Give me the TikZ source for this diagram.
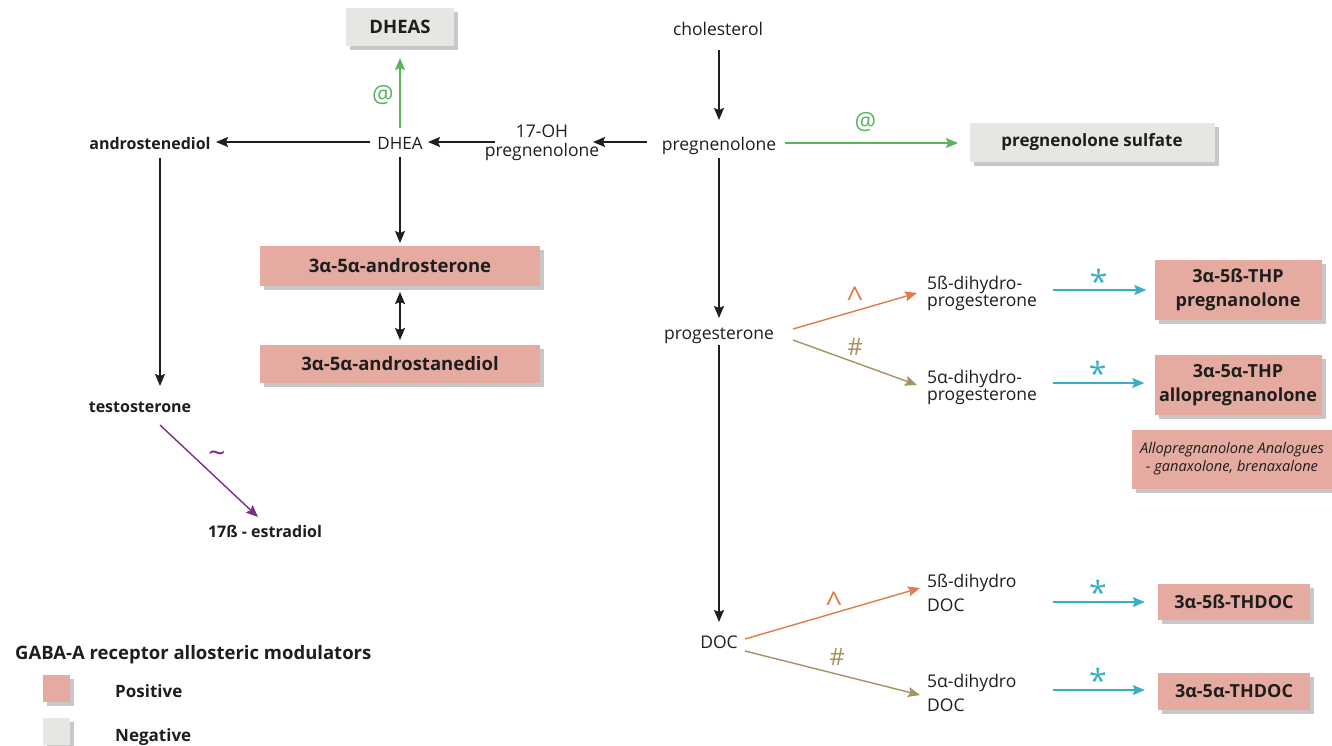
\documentclass[tikz,border=0pt]{standalone}
\usepackage{fontspec}
\setmainfont{Open Sans}
\usetikzlibrary{arrows.meta,shadows}
\definecolor{posc}{HTML}{E5AAA0}
\definecolor{negc}{HTML}{E8E6E2}
\definecolor{grn}{HTML}{5BB55E}
\definecolor{org}{HTML}{E07B4B}
\definecolor{tanc}{HTML}{A8925F}
\definecolor{cyn}{HTML}{3AAEC3}
\definecolor{prp}{HTML}{7A2E86}
\definecolor{ink}{HTML}{1E1E1E}
\begin{document}
\begin{tikzpicture}[x=1pt,y=-1pt,
  lbl/.style={font=\fontsize{17.5}{17.5}\selectfont, text=ink, inner sep=0pt, text height=13pt, text depth=4pt, align=center},
  lbla/.style={lbl, text height=18pt},
  blbl/.style={lbla, font=\bfseries\fontsize{16}{18}\selectfont},
  shd/.style={drop shadow={shadow xshift=4pt, shadow yshift=-4pt, fill=black, opacity=0.22}},
  posbox/.style={fill=posc, draw=none, text=ink, font=\bfseries\fontsize{18}{24}\selectfont, align=center, inner sep=0pt, shd},
  negbox/.style={fill=negc, draw=none, text=ink, font=\bfseries\fontsize{18.5}{20}\selectfont, align=center, inner sep=0pt, shd},
  arr/.style={line width=1.4pt, draw=ink, -{Stealth[length=12pt,width=10pt,inset=2pt]}},
  mk/.style={inner sep=0pt, anchor=center, font=\fontsize{24}{24}\selectfont},
  sh/.style={shift={#1}},
]
\useasboundingbox (0,0) rectangle (1332,745);

% boxes
\node[negbox, minimum width=108pt, minimum height=38pt] (dheas) at (400,27) {DHEAS};
\node[negbox, minimum width=245pt, minimum height=39pt, font=\bfseries\fontsize{17}{20}\selectfont] (psulf) at (1092,142) {pregnenolone sulfate};
\node[posbox, minimum width=280pt, minimum height=40pt, font=\bfseries\fontsize{18.5}{20}\selectfont] (andro) at (400,266) {3α-5α-androsterone};
\node[posbox, minimum width=280pt, minimum height=38pt, font=\bfseries\fontsize{18.5}{20}\selectfont] (adiol) at (400,364) {3α-5α-androstanediol};
\node[posbox, minimum width=167pt, minimum height=60pt] (thp) at (1238,290) {3α-5ß-THP\\pregnanolone};
\node[posbox, minimum width=167pt, minimum height=60pt] (allo) at (1238,385) {3α-5α-THP\\allopregnanolone};
\node[posbox, minimum width=200pt, minimum height=59pt, font=\itshape\fontsize{14.6}{18}\selectfont] (analog) at (1232,459) {Allopregnanolone Analogues\\- ganaxolone, brenaxalone};
\node[posbox, minimum width=152pt, minimum height=36pt] (thdoc1) at (1234,602) {3α-5ß-THDOC};
\node[posbox, minimum width=152pt, minimum height=37pt] (thdoc2) at (1234,691) {3α-5α-THDOC};

% text nodes
\node[lbla] (chol) at (718,28) {cholesterol};
\node[lbla] (preg) at (719,143) {pregnenolone};
\node[lbl, font=\fontsize{17.5}{19}\selectfont] (oh17) at (542,152) {17-OH\\pregnenolone};
\node[lbla, font=\fontsize{17}{17}\selectfont] (dhea) at (400,142) {DHEA};
\node[blbl] (andstd) at (150,142) {androstenediol};
\node[blbl] (testo) at (140,405) {testosterone};
\node[blbl] (estr) at (265,530) {17ß - estradiol};
\node[lbla] (prog) at (719,332) {progesterone};
\node[lbl, align=left, anchor=west, font=\fontsize{17.5}{14.5}\selectfont] (dhp5b) at (927,302) {5ß-dihydro-\\progesterone};
\node[lbl, align=left, anchor=west, font=\fontsize{17.5}{14.5}\selectfont] (dhp5a) at (927,396) {5α-dihydro-\\progesterone};
\node[lbla] (doc) at (719,641) {DOC};
\node[lbl, align=left, anchor=west, font=\fontsize{17.5}{24}\selectfont] (doc5b) at (927,607) {5ß-dihydro\\DOC};
\node[lbl, align=left, anchor=west, font=\fontsize{17.5}{24}\selectfont] (doc5a) at (927,707) {5α-dihydro\\DOC};

% connectors
\draw[arr] ([sh={(1,22)}]chol.center) -- ([sh={(0,-23)}]preg.center);
\draw[arr] ([sh={(-72,-1)}]preg.center) -- ([sh={(51,-10)}]oh17.center);
\draw[arr] ([sh={(-47,-10)}]oh17.center) -- ([sh={(28,0)}]dhea.center);
\draw[arr] ([sh={(-30,0)}]dhea.center) -- ([sh={(66,0)}]andstd.center);
\draw[arr, draw=grn] ([sh={(0,-14)}]dhea.center) -- node[mk, text=grn, xshift=-17pt, yshift=-2pt]{@} ([sh={(0,31)}]dheas.center);
\draw[arr] ([sh={(0,15)}]dhea.center) -- ([sh={(0,-23)}]andro.center);
\draw[line width=1.4pt, draw=ink, {Stealth[length=12pt,width=10pt,inset=2pt]}-{Stealth[length=12pt,width=10pt,inset=2pt]}] ([sh={(0,26)}]andro.center) -- ([sh={(0,-24)}]adiol.center);
\draw[arr] ([sh={(10,16)}]andstd.center) -- ([sh={(20,-19)}]testo.center);
\draw[arr, draw=prp] ([sh={(20,20)}]testo.center) -- node[mk, text=prp, font=\fontsize{30}{30}\selectfont, xshift=8pt, yshift=14pt]{\textasciitilde} ([sh={(-7,-13)}]estr.center);
\draw[arr, draw=grn] ([sh={(66,0)}]preg.center) -- node[mk, text=grn, xshift=-6pt, yshift=21pt]{@} ([sh={(-134,1)}]psulf.center);
\draw[arr] ([sh={(0,15)}]preg.center) -- ([sh={(0,-14)}]prog.center);
\draw[arr, draw=org] ([sh={(74,-3)}]prog.center) -- node[mk, text=org, font=\fontsize{30}{30}\selectfont, yshift=13pt]{\textasciicircum} ([sh={(-10,-9)}]dhp5b.west);
\draw[arr, draw=tanc] ([sh={(74,8)}]prog.center) -- node[mk, text=tanc, yshift=16pt]{\#} ([sh={(-10,-11)}]dhp5a.west);
\draw[arr, draw=cyn] ([sh={(126,-12)}]dhp5b.west) -- node[mk, text=cyn, font=\fontsize{32}{32}\selectfont, xshift=-1pt, yshift=9pt]{*} ([sh={(-8,0)}]thp.west);
\draw[arr, draw=cyn] ([sh={(126,-13)}]dhp5a.west) -- node[mk, text=cyn, font=\fontsize{32}{32}\selectfont, xshift=-1pt, yshift=10pt]{*} ([sh={(-10,-2)}]allo.west);
\draw[arr] ([sh={(0,13)}]prog.center) -- ([sh={(0,-19)}]doc.center);
\draw[arr, draw=org] ([sh={(26,-2)}]doc.center) -- node[mk, text=org, font=\fontsize{30}{30}\selectfont, xshift=1.5pt, yshift=11pt]{\textasciicircum} ([sh={(-7,-19)}]doc5b.west);
\draw[arr, draw=tanc] ([sh={(26,10)}]doc.center) -- node[mk, text=tanc, xshift=4.5pt, yshift=16pt]{\#} ([sh={(-7,-12)}]doc5a.west);
\draw[arr, draw=cyn] ([sh={(126,-5)}]doc5b.west) -- node[mk, text=cyn, font=\fontsize{32}{32}\selectfont, xshift=-1pt, yshift=10pt]{*} ([sh={(-13,0)}]thdoc1.west);
\draw[arr, draw=cyn] ([sh={(126,-17)}]doc5a.west) -- node[mk, text=cyn, font=\fontsize{32}{32}\selectfont, xshift=-1pt, yshift=10pt]{*} ([sh={(-13,-1)}]thdoc2.west);

% legend
\node[blbl, anchor=west, font=\bfseries\fontsize{18.5}{20}\selectfont] (legt) at (15,652) {GABA-A receptor allosteric modulators};
\node[fill=posc, minimum size=27pt, inner sep=0pt, shd] (legp) at (56,688) {};
\node[fill=negc, minimum size=27pt, inner sep=0pt, shd] (legn) at (56,731) {};
\node[blbl, anchor=west, font=\bfseries\fontsize{17}{18}\selectfont] (legpt) at (115,690) {Positive};
\node[blbl, anchor=west, font=\bfseries\fontsize{17}{18}\selectfont] (legnt) at (115,734) {Negative};
\end{tikzpicture}
\end{document}
